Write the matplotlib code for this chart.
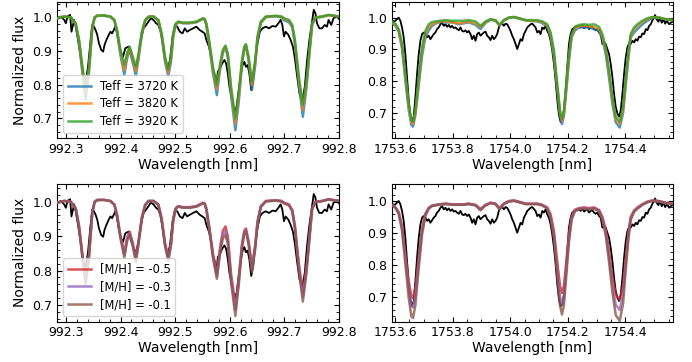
import matplotlib
matplotlib.use("Agg")
import matplotlib.pyplot as plt
from matplotlib.ticker import MultipleLocator, AutoMinorLocator

# ---------------- observed spectrum, window 1 (nm, normalized flux) ----------------
obs_wl_1 = [992.2845, 992.2906, 992.2966, 992.2997, 992.3027, 992.3075, 992.3100, 992.3148, 992.3178, 992.3209,
            992.3269, 992.3318, 992.3360, 992.3403, 992.3451, 992.3481, 992.3512, 992.3542, 992.3572, 992.3603,
            992.3645, 992.3681, 992.3706, 992.3742, 992.3784, 992.3815, 992.3845, 992.3875, 992.3906, 992.3936,
            992.3966, 992.4009, 992.4045, 992.4087, 992.4148, 992.4190, 992.4239, 992.4281, 992.4330, 992.4372,
            992.4421, 992.4469, 992.4512, 992.4554, 992.4603, 992.4651, 992.4693, 992.4736, 992.4772, 992.4815,
            992.4863, 992.4906, 992.4954, 992.4997, 992.5039, 992.5087, 992.5136, 992.5178, 992.5221, 992.5269,
            992.5330, 992.5390, 992.5451, 992.5499, 992.5542, 992.5572, 992.5620, 992.5663, 992.5693, 992.5723,
            992.5754, 992.5784, 992.5826, 992.5863, 992.5905, 992.5935, 992.5966, 992.5996, 992.6045, 992.6087,
            992.6129, 992.6166, 992.6208, 992.6238, 992.6269, 992.6299, 992.6329, 992.6360, 992.6396, 992.6432,
            992.6469, 992.6511, 992.6554, 992.6602, 992.6663, 992.6723, 992.6784, 992.6845, 992.6893, 992.6935,
            992.6966, 992.6996, 992.7026, 992.7075, 992.7117, 992.7160, 992.7196, 992.7238, 992.7281, 992.7329,
            992.7378, 992.7420, 992.7463, 992.7511, 992.7542, 992.7572, 992.7602, 992.7645, 992.7693, 992.7742,
            992.7784, 992.7814, 992.7863, 992.7905, 992.7966, 992.8005]
obs_fl_1 = [0.997, 1.002, 0.992, 0.982, 1.002, 1.007, 0.957, 0.992, 0.972, 0.943,
            0.883, 0.824, 0.808, 0.853, 0.933, 0.977, 0.972, 0.962, 0.948, 0.923,
            0.903, 0.898, 0.918, 0.933, 0.948, 0.957, 0.952, 0.962, 0.972, 0.952,
            0.923, 0.893, 0.883, 0.908, 0.913, 0.888, 0.863, 0.853, 0.883, 0.933,
            0.967, 0.977, 0.987, 0.997, 0.992, 0.982, 0.977, 0.957, 0.923, 0.873,
            0.844, 0.873, 0.943, 0.977, 0.972, 0.957, 0.952, 0.967, 0.957, 0.962,
            0.967, 0.972, 0.962, 0.957, 0.952, 0.933, 0.913, 0.883, 0.844, 0.829,
            0.794, 0.839, 0.849, 0.863, 0.873, 0.863, 0.834, 0.794, 0.754, 0.720,
            0.735, 0.784, 0.834, 0.858, 0.868, 0.853, 0.858, 0.834, 0.784, 0.814,
            0.873, 0.923, 0.957, 0.967, 0.972, 0.967, 0.974, 0.972, 0.982, 0.992,
            0.977, 0.943, 0.957, 0.948, 0.933, 0.913, 0.878, 0.824, 0.774, 0.750,
            0.794, 0.873, 0.933, 0.987, 1.022, 1.012, 0.982, 0.967, 0.967, 0.977,
            0.972, 0.992, 0.977, 0.997, 1.002, 0.995]

# ---------------- model grid, window 1 ----------------
mod_wl_1 = [992.2845, 992.2966, 992.3088, 992.3178, 992.3239, 992.3300, 992.3360, 992.3421, 992.3481, 992.3524,
            992.3572, 992.3694, 992.3815, 992.3887, 992.3936, 992.3997, 992.4069, 992.4118, 992.4166, 992.4215,
            992.4281, 992.4330, 992.4390, 992.4451, 992.4512, 992.4603, 992.4693, 992.4754, 992.4815, 992.4875,
            992.4924, 992.4966, 992.5015, 992.5057, 992.5148, 992.5269, 992.5390, 992.5451, 992.5511, 992.5542,
            992.5572, 992.5632, 992.5693, 992.5766, 992.5826, 992.5875, 992.5923, 992.5966, 992.6026, 992.6105,
            992.6166, 992.6226, 992.6269, 992.6299, 992.6348, 992.6408, 992.6469, 992.6511, 992.6572, 992.6663,
            992.6845, 992.6954, 992.6996, 992.7087, 992.7148, 992.7196, 992.7269, 992.7342, 992.7408, 992.7463,
            992.7511, 992.7572, 992.7693, 992.7814, 992.8005]
teff3720_1 = [0.997, 1.002, 0.999, 0.978, 0.925, 0.835, 0.757, 0.835, 0.966, 0.998,
              1.004, 1.005, 1.001, 0.990, 0.956, 0.889, 0.829, 0.877, 0.905, 0.872,
              0.826, 0.877, 0.949, 0.989, 1.001, 1.002, 0.990, 0.944, 0.869, 0.825,
              0.869, 0.944, 0.978, 0.985, 0.982, 0.982, 0.985, 0.990, 0.995, 0.993,
              0.977, 0.912, 0.835, 0.769, 0.848, 0.895, 0.910, 0.882, 0.768, 0.665,
              0.748, 0.861, 0.907, 0.914, 0.871, 0.784, 0.858, 0.935, 0.983, 1.000,
              1.003, 0.999, 0.991, 0.985, 0.970, 0.922, 0.800, 0.705, 0.790, 0.890,
              0.976, 0.998, 1.001, 1.006, 1.002]
teff3820_1 = [0.997, 1.002, 1.000, 0.980, 0.929, 0.845, 0.775, 0.845, 0.969, 0.999,
              1.005, 1.005, 1.002, 0.991, 0.959, 0.896, 0.843, 0.885, 0.909, 0.880,
              0.840, 0.885, 0.953, 0.990, 1.001, 1.002, 0.991, 0.948, 0.876, 0.835,
              0.876, 0.948, 0.980, 0.986, 0.983, 0.983, 0.986, 0.991, 0.996, 0.994,
              0.980, 0.918, 0.845, 0.787, 0.856, 0.899, 0.913, 0.888, 0.782, 0.685,
              0.762, 0.867, 0.910, 0.917, 0.877, 0.799, 0.866, 0.939, 0.985, 1.001,
              1.004, 1.001, 0.995, 0.990, 0.974, 0.928, 0.813, 0.725, 0.803, 0.897,
              0.979, 0.999, 1.002, 1.006, 1.002]
teff3920_1 = [0.997, 1.002, 1.000, 0.982, 0.933, 0.853, 0.790, 0.853, 0.972, 1.000,
              1.005, 1.005, 1.002, 0.992, 0.962, 0.903, 0.858, 0.893, 0.913, 0.888,
              0.853, 0.893, 0.957, 0.992, 1.002, 1.002, 0.992, 0.952, 0.883, 0.844,
              0.883, 0.952, 0.982, 0.987, 0.984, 0.984, 0.987, 0.992, 0.997, 0.995,
              0.982, 0.923, 0.853, 0.799, 0.863, 0.903, 0.916, 0.893, 0.794, 0.700,
              0.774, 0.873, 0.913, 0.920, 0.883, 0.809, 0.873, 0.943, 0.987, 1.002,
              1.004, 1.002, 0.997, 0.992, 0.977, 0.933, 0.824, 0.740, 0.814, 0.903,
              0.982, 1.000, 1.002, 1.007, 1.002]
mh05_1 = [0.997, 1.002, 1.000, 0.981, 0.930, 0.847, 0.775, 0.847, 0.970, 1.000,
          1.005, 1.005, 1.002, 0.992, 0.962, 0.902, 0.852, 0.894, 0.913, 0.886,
          0.835, 0.886, 0.955, 0.991, 1.002, 1.002, 0.992, 0.951, 0.880, 0.838,
          0.880, 0.951, 0.982, 0.987, 0.984, 0.984, 0.987, 0.992, 0.997, 0.995,
          0.981, 0.921, 0.850, 0.790, 0.868, 0.915, 0.928, 0.900, 0.790, 0.700,
          0.777, 0.877, 0.916, 0.922, 0.885, 0.810, 0.875, 0.943, 0.987, 1.002,
          1.004, 1.002, 0.997, 0.992, 0.976, 0.931, 0.820, 0.735, 0.810, 0.900,
          0.981, 1.000, 1.002, 1.007, 1.002]
mh03_1 = [0.997, 1.002, 1.000, 0.980, 0.927, 0.842, 0.767, 0.842, 0.968, 0.999,
          1.005, 1.005, 1.002, 0.991, 0.960, 0.898, 0.845, 0.889, 0.909, 0.882,
          0.830, 0.882, 0.952, 0.990, 1.002, 1.002, 0.991, 0.948, 0.876, 0.833,
          0.876, 0.948, 0.981, 0.986, 0.983, 0.983, 0.986, 0.991, 0.996, 0.994,
          0.979, 0.917, 0.844, 0.783, 0.860, 0.904, 0.915, 0.889, 0.778, 0.685,
          0.767, 0.871, 0.912, 0.918, 0.880, 0.803, 0.869, 0.940, 0.986, 1.001,
          1.004, 1.001, 0.996, 0.991, 0.974, 0.927, 0.812, 0.722, 0.801, 0.895,
          0.979, 0.999, 1.002, 1.006, 1.002]
mh01_1 = [0.997, 1.002, 0.999, 0.979, 0.924, 0.837, 0.760, 0.837, 0.966, 0.998,
          1.004, 1.005, 1.001, 0.990, 0.958, 0.894, 0.838, 0.884, 0.905, 0.878,
          0.825, 0.878, 0.949, 0.989, 1.001, 1.002, 0.990, 0.945, 0.872, 0.828,
          0.872, 0.945, 0.980, 0.985, 0.982, 0.982, 0.985, 0.990, 0.995, 0.993,
          0.977, 0.913, 0.838, 0.776, 0.852, 0.893, 0.903, 0.878, 0.766, 0.668,
          0.757, 0.865, 0.908, 0.914, 0.875, 0.796, 0.863, 0.937, 0.984, 1.000,
          1.003, 1.000, 0.995, 0.989, 0.972, 0.923, 0.803, 0.710, 0.792, 0.890,
          0.977, 0.998, 1.001, 1.006, 1.002]

# ---------------- observed spectrum, window 2 ----------------
obs_wl_2 = [1753.5896, 1753.5989, 1753.6070, 1753.6128, 1753.6186, 1753.6244, 1753.6302, 1753.6360, 1753.6418, 1753.6476,
            1753.6534, 1753.6592, 1753.6650, 1753.6708, 1753.6766, 1753.6824, 1753.6882, 1753.6939, 1753.6997, 1753.7055,
            1753.7113, 1753.7171, 1753.7229, 1753.7287, 1753.7345, 1753.7403, 1753.7461, 1753.7519, 1753.7577, 1753.7635,
            1753.7693, 1753.7751, 1753.7809, 1753.7867, 1753.7925, 1753.7983, 1753.8041, 1753.8099, 1753.8157, 1753.8215,
            1753.8273, 1753.8331, 1753.8389, 1753.8447, 1753.8505, 1753.8563, 1753.8621, 1753.8679, 1753.8737, 1753.8795,
            1753.8853, 1753.8910, 1753.8968, 1753.9026, 1753.9084, 1753.9142, 1753.9200, 1753.9258, 1753.9316, 1753.9374,
            1753.9432, 1753.9490, 1753.9548, 1753.9606, 1753.9664, 1753.9722, 1753.9780, 1753.9838, 1753.9896, 1753.9954,
            1754.0012, 1754.0070, 1754.0128, 1754.0186, 1754.0244, 1754.0302, 1754.0360, 1754.0418, 1754.0476, 1754.0534,
            1754.0592, 1754.0650, 1754.0708, 1754.0766, 1754.0881, 1754.0939, 1754.0997, 1754.1055, 1754.1113, 1754.1171,
            1754.1229, 1754.1287, 1754.1345, 1754.1403, 1754.1461, 1754.1519, 1754.1577, 1754.1635, 1754.1693, 1754.1750,
            1754.1808, 1754.1866, 1754.1924, 1754.1982, 1754.2040, 1754.2098, 1754.2156, 1754.2272, 1754.2388, 1754.2446,
            1754.2504, 1754.2562, 1754.2620, 1754.2678, 1754.2736, 1754.2794, 1754.2852, 1754.2910, 1754.2968, 1754.3026,
            1754.3084, 1754.3142, 1754.3200, 1754.3258, 1754.3316, 1754.3374, 1754.3432, 1754.3490, 1754.3548, 1754.3606,
            1754.3664, 1754.3722, 1754.3780, 1754.3838, 1754.3896, 1754.3954, 1754.4012, 1754.4069, 1754.4127, 1754.4185,
            1754.4243, 1754.4301, 1754.4359, 1754.4417, 1754.4475, 1754.4533, 1754.4591, 1754.4649, 1754.4707, 1754.4765,
            1754.4823, 1754.4881, 1754.4939, 1754.4997, 1754.5032, 1754.5078, 1754.5148, 1754.5194, 1754.5264, 1754.5322,
            1754.5380, 1754.5438, 1754.5519, 1754.5577, 1754.5670]
obs_fl_2 = [0.990, 0.988, 0.995, 1.000, 0.990, 0.969, 0.938, 0.885, 0.813, 0.740,
            0.693, 0.672, 0.688, 0.750, 0.823, 0.885, 0.927, 0.948, 0.953, 0.948,
            0.938, 0.943, 0.932, 0.940, 0.948, 0.953, 0.964, 0.969, 0.979, 0.984,
            0.974, 0.979, 0.971, 0.977, 0.969, 0.974, 0.967, 0.969, 0.964, 0.960,
            0.969, 0.958, 0.956, 0.960, 0.953, 0.958, 0.948, 0.932, 0.943, 0.927,
            0.948, 0.953, 0.943, 0.948, 0.953, 0.956, 0.943, 0.938, 0.929, 0.943,
            0.932, 0.938, 0.948, 0.969, 0.979, 0.981, 0.974, 0.981, 0.979, 0.969,
            0.958, 0.943, 0.932, 0.917, 0.901, 0.917, 0.932, 0.927, 0.948, 0.958,
            0.969, 0.974, 0.979, 0.981, 0.969, 0.953, 0.958, 0.948, 0.969, 0.964,
            0.974, 0.958, 0.948, 0.927, 0.896, 0.854, 0.802, 0.740, 0.693, 0.672,
            0.677, 0.708, 0.771, 0.844, 0.917, 0.948, 0.964, 0.971, 0.974, 0.969,
            0.977, 0.967, 0.971, 0.974, 0.964, 0.969, 0.971, 0.964, 0.960, 0.964,
            0.953, 0.948, 0.917, 0.922, 0.917, 0.901, 0.885, 0.854, 0.813, 0.760,
            0.719, 0.698, 0.688, 0.708, 0.760, 0.823, 0.875, 0.906, 0.919, 0.917,
            0.927, 0.922, 0.932, 0.927, 0.940, 0.938, 0.950, 0.948, 0.964, 0.960,
            0.974, 0.979, 0.992, 1.000, 1.008, 0.995, 0.987, 1.000, 0.984, 0.995,
            0.981, 0.990, 0.979, 0.984, 0.988]

# ---------------- model grid, window 2 ----------------
mod_wl_2 = [1753.5896, 1753.6012, 1753.6128, 1753.6244, 1753.6360, 1753.6476, 1753.6568, 1753.6626, 1753.6708, 1753.6824,
            1753.6939, 1753.7055, 1753.7171, 1753.7287, 1753.7403, 1753.7577, 1753.7751, 1753.7983, 1753.8215, 1753.8389,
            1753.8563, 1753.8795, 1753.8968, 1753.9142, 1753.9316, 1753.9490, 1753.9629, 1753.9780, 1753.9954, 1754.0128,
            1754.0302, 1754.0534, 1754.0766, 1754.0939, 1754.1113, 1754.1287, 1754.1403, 1754.1519, 1754.1635, 1754.1728,
            1754.1797, 1754.1866, 1754.1959, 1754.2040, 1754.2133, 1754.2249, 1754.2388, 1754.2562, 1754.2736, 1754.2910,
            1754.3084, 1754.3200, 1754.3316, 1754.3432, 1754.3548, 1754.3664, 1754.3803, 1754.3919, 1754.4012, 1754.4104,
            1754.4185, 1754.4301, 1754.4417, 1754.4591, 1754.4765, 1754.4939, 1754.5171, 1754.5403, 1754.5670]
teff3720_2 = [0.981, 0.975, 0.955, 0.903, 0.803, 0.710, 0.662, 0.657, 0.693, 0.788,
              0.880, 0.938, 0.960, 0.974, 0.981, 0.986, 0.985, 0.985, 0.979, 0.982,
              0.985, 0.977, 0.964, 0.983, 0.993, 0.990, 0.975, 0.991, 0.999, 1.001,
              0.997, 0.991, 0.989, 0.988, 0.983, 0.970, 0.938, 0.875, 0.770, 0.691,
              0.665, 0.692, 0.781, 0.864, 0.938, 0.960, 0.969, 0.969, 0.969, 0.964,
              0.958, 0.932, 0.886, 0.811, 0.729, 0.671, 0.654, 0.700, 0.788, 0.872,
              0.938, 0.953, 0.964, 0.979, 0.990, 0.999, 0.999, 0.994, 0.992]
teff3820_2 = [0.984, 0.978, 0.960, 0.910, 0.813, 0.720, 0.670, 0.665, 0.701, 0.800,
              0.893, 0.948, 0.971, 0.979, 0.983, 0.988, 0.988, 0.985, 0.981, 0.984,
              0.988, 0.981, 0.971, 0.985, 0.994, 0.991, 0.976, 0.992, 1.000, 1.002,
              0.998, 0.992, 0.990, 0.990, 0.986, 0.975, 0.946, 0.886, 0.780, 0.700,
              0.675, 0.701, 0.792, 0.875, 0.942, 0.967, 0.973, 0.975, 0.973, 0.971,
              0.964, 0.940, 0.896, 0.822, 0.740, 0.680, 0.665, 0.710, 0.800, 0.885,
              0.943, 0.964, 0.974, 0.987, 0.995, 1.001, 1.000, 0.995, 0.992]
teff3920_2 = [0.988, 0.981, 0.964, 0.917, 0.823, 0.729, 0.677, 0.672, 0.708, 0.813,
              0.906, 0.958, 0.979, 0.986, 0.988, 0.990, 0.992, 0.990, 0.990, 0.990,
              0.992, 0.988, 0.974, 0.988, 0.995, 0.992, 0.977, 0.992, 1.000, 1.002,
              0.998, 0.992, 0.992, 0.992, 0.988, 0.979, 0.953, 0.896, 0.790, 0.708,
              0.682, 0.708, 0.802, 0.885, 0.948, 0.971, 0.977, 0.979, 0.977, 0.979,
              0.971, 0.948, 0.906, 0.833, 0.750, 0.688, 0.672, 0.719, 0.813, 0.896,
              0.948, 0.969, 0.979, 0.990, 0.998, 1.002, 1.000, 0.995, 0.992]
mh05_2 = [0.988, 0.981, 0.966, 0.923, 0.836, 0.750, 0.702, 0.697, 0.730, 0.827,
          0.913, 0.961, 0.979, 0.986, 0.988, 0.990, 0.992, 0.990, 0.990, 0.990,
          0.992, 0.988, 0.976, 0.988, 0.995, 0.992, 0.978, 0.992, 1.000, 1.002,
          0.998, 0.992, 0.992, 0.992, 0.988, 0.980, 0.958, 0.906, 0.810, 0.736,
          0.713, 0.736, 0.821, 0.896, 0.953, 0.973, 0.978, 0.980, 0.978, 0.980,
          0.972, 0.951, 0.912, 0.843, 0.765, 0.707, 0.692, 0.736, 0.824, 0.902,
          0.951, 0.970, 0.980, 0.990, 0.998, 1.002, 1.000, 0.995, 0.992]
mh03_2 = [0.987, 0.980, 0.963, 0.916, 0.821, 0.726, 0.673, 0.668, 0.704, 0.810,
          0.905, 0.957, 0.978, 0.985, 0.987, 0.990, 0.991, 0.989, 0.989, 0.989,
          0.991, 0.987, 0.973, 0.987, 0.994, 0.991, 0.976, 0.991, 0.999, 1.001,
          0.997, 0.991, 0.991, 0.991, 0.987, 0.978, 0.952, 0.894, 0.787, 0.703,
          0.677, 0.703, 0.799, 0.883, 0.947, 0.970, 0.976, 0.978, 0.976, 0.978,
          0.970, 0.946, 0.903, 0.827, 0.741, 0.676, 0.660, 0.709, 0.806, 0.892,
          0.946, 0.968, 0.978, 0.989, 0.997, 1.001, 0.999, 0.994, 0.991]
mh01_2 = [0.986, 0.979, 0.960, 0.908, 0.803, 0.698, 0.640, 0.635, 0.675, 0.791,
          0.895, 0.953, 0.976, 0.984, 0.986, 0.989, 0.990, 0.988, 0.988, 0.988,
          0.990, 0.986, 0.971, 0.986, 0.993, 0.990, 0.974, 0.990, 0.998, 1.000,
          0.996, 0.990, 0.990, 0.990, 0.986, 0.976, 0.948, 0.884, 0.766, 0.675,
          0.646, 0.675, 0.780, 0.872, 0.942, 0.968, 0.974, 0.976, 0.974, 0.976,
          0.968, 0.941, 0.893, 0.810, 0.715, 0.644, 0.626, 0.680, 0.786, 0.881,
          0.941, 0.966, 0.976, 0.988, 0.996, 1.000, 0.998, 0.993, 0.990]

teff_labels = ["Teff = 3720 K", "Teff = 3820 K", "Teff = 3920 K"]
mh_labels = ["[M/H] = -0.5", "[M/H] = -0.3", "[M/H] = -0.1"]
teff_colors = ["tab:blue", "tab:orange", "tab:green"]
mh_colors = ["tab:red", "tab:purple", "tab:brown"]

W, H = 692, 362
fig = plt.figure(figsize=(W / 100, H / 100), dpi=100)

def frac(x0, y0, x1, y1):
    return [x0 / W, 1 - y1 / H, (x1 - x0) / W, (y1 - y0) / H]

ax_tl = fig.add_axes(frac(57.3, 1.7, 339.0, 138.3))
ax_tr = fig.add_axes(frac(392.0, 1.7, 672.5, 138.3))
ax_bl = fig.add_axes(frac(57.3, 183.7, 339.0, 321.5))
ax_br = fig.add_axes(frac(392.0, 183.7, 672.5, 321.5))

panels = [
    (ax_tl, obs_wl_1, obs_fl_1, mod_wl_1, [teff3720_1, teff3820_1, teff3920_1], teff_labels, teff_colors, True, (0.641, 1.046)),
    (ax_tr, obs_wl_2, obs_fl_2, mod_wl_2, [teff3720_2, teff3820_2, teff3920_2], teff_labels, teff_colors, False, (0.620, 1.050)),
    (ax_bl, obs_wl_1, obs_fl_1, mod_wl_1, [mh05_1, mh03_1, mh01_1], mh_labels, mh_colors, True, (0.652, 1.052)),
    (ax_br, obs_wl_2, obs_fl_2, mod_wl_2, [mh05_2, mh03_2, mh01_2], mh_labels, mh_colors, False, (0.624, 1.054)),
]

for ax, owl, ofl, mwl, models, labels, colors, left, ylim in panels:
    ax.plot(owl, ofl, color="black", lw=1.3, zorder=2)
    for m, lab, c in zip(models, labels, colors):
        ax.plot(mwl, m, color=c, lw=1.8, alpha=0.8, label=lab, zorder=3)
    ax.set_ylim(*ylim)
    if left:
        ax.set_xlim(992.284, 992.8005)
        ax.xaxis.set_major_locator(MultipleLocator(0.1))
        ax.set_ylabel("Normalized flux", fontsize=10)
        ax.legend(loc="lower left", fontsize=8.3, handlelength=2.0,
                  labelspacing=0.4, borderpad=0.4)
    else:
        ax.set_xlim(1753.5896, 1754.5635)
        ax.xaxis.set_major_locator(MultipleLocator(0.2))
    ax.yaxis.set_major_locator(MultipleLocator(0.1))
    ax.xaxis.set_minor_locator(AutoMinorLocator())
    ax.yaxis.set_minor_locator(AutoMinorLocator())
    ax.tick_params(which="both", direction="in", top=True, right=True, labelsize=9)
    ax.set_xlabel("Wavelength [nm]", fontsize=10, labelpad=1)
    for lbl in ax.get_xticklabels():
        lbl.set_clip_on(False)

fig.savefig("out.png", dpi=100)
